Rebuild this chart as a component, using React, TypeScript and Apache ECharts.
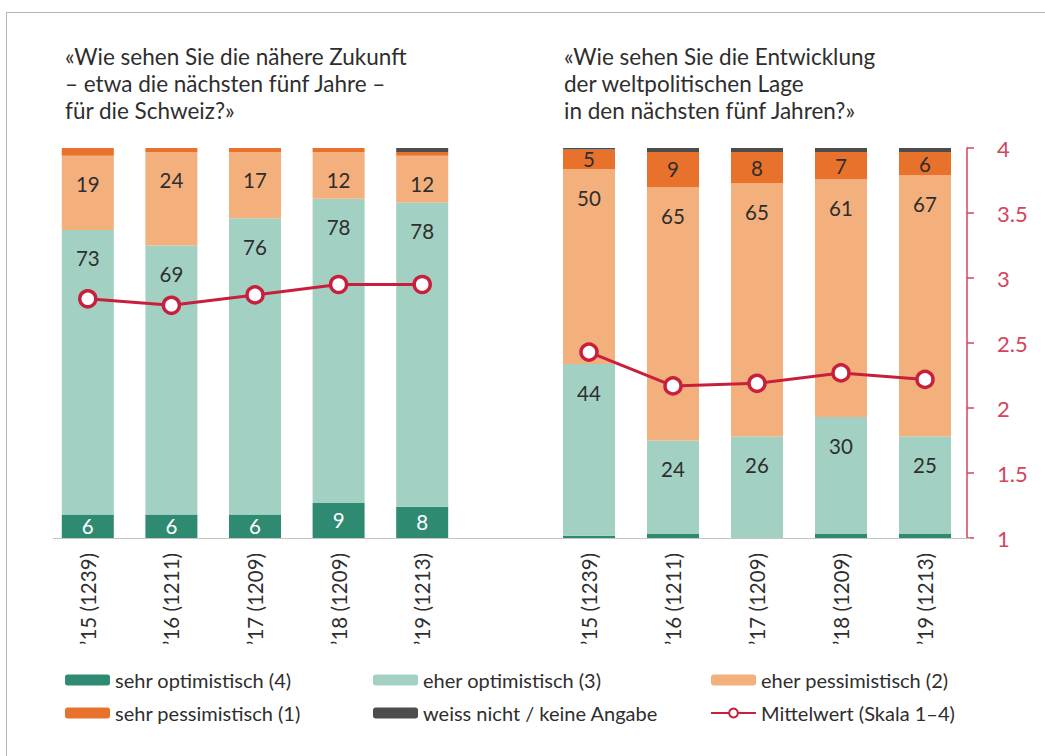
import React, { useEffect, useRef } from "react";
import * as echarts from "echarts";

const categories = ["’15 (1239)", "’16 (1211)", "’17 (1209)", "’18 (1209)", "’19 (1213)"];

const seriesNames = [
  "sehr optimistisch (4)",
  "eher optimistisch (3)",
  "eher pessimistisch (2)",
  "sehr pessimistisch (1)",
  "weiss nicht / keine Angabe",
];
const meanName = "Mittelwert (Skala 1–4)";

// Left panel: Schweiz
const chSehrOpt = [6, 6, 6, 9, 8];
const chEherOpt = [73, 69, 76, 78, 78];
const chEherPess = [19, 24, 17, 12, 12];
const chSehrPess = [2, 1, 1, 1, 1];
const chWeissNicht = [0, 0, 0, 0, 1];
const chMean = [2.84, 2.79, 2.87, 2.95, 2.95];

// Right panel: weltpolitische Lage
const wSehrOpt = [0.6, 1, 0, 1, 1];
const wEherOpt = [44, 24, 26, 30, 25];
const wEherPess = [50, 65, 65, 61, 67];
const wSehrPess = [5, 9, 8, 7, 6];
const wWeissNicht = [0.4, 1, 1, 1, 1];
const wMean = [2.43, 2.17, 2.19, 2.27, 2.22];

const meanTicks = [1, 1.5, 2, 2.5, 3, 3.5, 4];

const titleLeft = "«Wie sehen Sie die nähere Zukunft\n– etwa die nächsten fünf Jahre –\nfür die Schweiz?»";
const titleRight = "«Wie sehen Sie die Entwicklung\nder weltpolitischen Lage\nin den nächsten fünf Jahren?»";

const colors = ["#2f8a72", "#a2d1c4", "#f4b07c", "#e8722c", "#4d4d4d"];
const lineColor = "#c8203c";
const axisRed = "#d2455d";
const FONT = "Lato, 'Open Sans', sans-serif";
const TEXT = "#2e2e2e";
const LABEL_SIZE = 20.5;

function panelSeries(
  panel: number,
  data: number[][],
  mean: number[],
  opts: { soLabel: boolean; spLabel: boolean }
) {
  const xi = panel;
  const yi = panel * 2;
  const out: any[] = [];
  data.forEach((vals, i) => {
    let label: any = { show: false };
    if (i === 0 && opts.soLabel) {
      label = { show: true, position: "inside", color: "#fff", fontSize: LABEL_SIZE, fontFamily: FONT };
    } else if (i === 1 || i === 2) {
      label = { show: true, position: "insideTop", distance: 18, color: TEXT, fontSize: LABEL_SIZE, fontFamily: FONT };
    } else if (i === 3 && opts.spLabel) {
      label = { show: true, position: "inside", color: TEXT, fontSize: LABEL_SIZE, fontFamily: FONT };
    }
    out.push({
      name: seriesNames[i],
      type: "bar",
      stack: "p" + panel,
      xAxisIndex: xi,
      yAxisIndex: yi,
      barWidth: 52,
      data: vals,
      itemStyle: { color: colors[i] },
      label: { ...label, formatter: (p: any) => (p.value >= 1 ? String(Math.round(p.value)) : "") },
    });
  });
  out.push({
    name: meanName,
    type: "line",
    xAxisIndex: xi,
    yAxisIndex: yi + 1,
    data: mean,
    symbol: "circle",
    symbolSize: 16,
    z: 5,
    lineStyle: { color: lineColor, width: 3 },
    itemStyle: { color: "#fff", borderColor: lineColor, borderWidth: 3.5 },
  });
  return out;
}

export default function App() {
  const ref = useRef<HTMLDivElement>(null);
  useEffect(() => {
    document.body.style.margin = "0";
    const chart = echarts.init(ref.current!, null, { renderer: "svg" });
    const xAxisBase = {
      type: "category",
      data: categories,
      axisLine: { show: false },
      axisTick: { show: false },
      axisLabel: { rotate: 90, margin: 15, fontSize: 20.5, color: TEXT, fontFamily: FONT },
    };
    const hiddenY = { show: false, splitLine: { show: false } };
    const legendText = { fontSize: 20, color: TEXT, fontFamily: FONT, lineHeight: 20 };
    const legendBase = {
      orient: "vertical",
      top: 665,
      itemWidth: 45,
      itemHeight: 11,
      itemGap: 13,
      textStyle: legendText,
      selectedMode: false,
    };
    const titleStyle = { fontSize: 22.5, lineHeight: 27, fontWeight: "normal", color: TEXT, fontFamily: FONT };
    chart.setOption({
      animation: false,
      backgroundColor: "#fff",
      title: [
        { text: titleLeft, left: 60, top: 38, textStyle: titleStyle },
        { text: titleRight, left: 559, top: 38, textStyle: titleStyle },
      ],
      legend: [
        { ...legendBase, left: 60, data: [seriesNames[0], seriesNames[3]] },
        { ...legendBase, left: 368, data: [seriesNames[1], seriesNames[4]] },
        { ...legendBase, left: 705, data: [seriesNames[2], meanName] },
      ],
      grid: [
        { left: 46, width: 418, top: 148, height: 390 },
        { left: 547, width: 420, top: 148, height: 390 },
      ],
      xAxis: [
        { ...xAxisBase, gridIndex: 0 },
        { ...xAxisBase, gridIndex: 1 },
      ],
      yAxis: [
        { ...hiddenY, type: "value", gridIndex: 0, min: 0, max: 100 },
        { ...hiddenY, type: "value", gridIndex: 0, min: 1, max: 4 },
        { ...hiddenY, type: "value", gridIndex: 1, min: 0, max: 100 },
        {
          type: "value",
          gridIndex: 1,
          position: "right",
          min: meanTicks[0],
          max: meanTicks[meanTicks.length - 1],
          interval: 0.5,
          splitLine: { show: false },
          axisLine: { show: true, lineStyle: { color: axisRed, width: 1.5 } },
          axisTick: { show: true, length: 7, lineStyle: { color: axisRed, width: 1.5 } },
          axisLabel: { margin: 30, fontSize: 22, color: axisRed, fontFamily: FONT },
        },
      ],
      graphic: [
        { type: "line", shape: { x1: 6, y1: 12.5, x2: 1045, y2: 12.5 }, style: { stroke: "#b5b5b5", lineWidth: 1 } },
        { type: "line", shape: { x1: 6.5, y1: 12, x2: 6.5, y2: 756 }, style: { stroke: "#b5b5b5", lineWidth: 1 } },
        { type: "line", shape: { x1: 53, y1: 538.5, x2: 970, y2: 538.5 }, style: { stroke: "#c4c4c4", lineWidth: 1 }, z: 10 },
      ],
      series: [
        ...panelSeries(0, [chSehrOpt, chEherOpt, chEherPess, chSehrPess, chWeissNicht], chMean, {
          soLabel: true,
          spLabel: false,
        }),
        ...panelSeries(1, [wSehrOpt, wEherOpt, wEherPess, wSehrPess, wWeissNicht], wMean, {
          soLabel: false,
          spLabel: true,
        }),
      ],
    });
    return () => chart.dispose();
  }, []);
  return <div ref={ref} style={{ width: 1045, height: 756 }} />;
}
